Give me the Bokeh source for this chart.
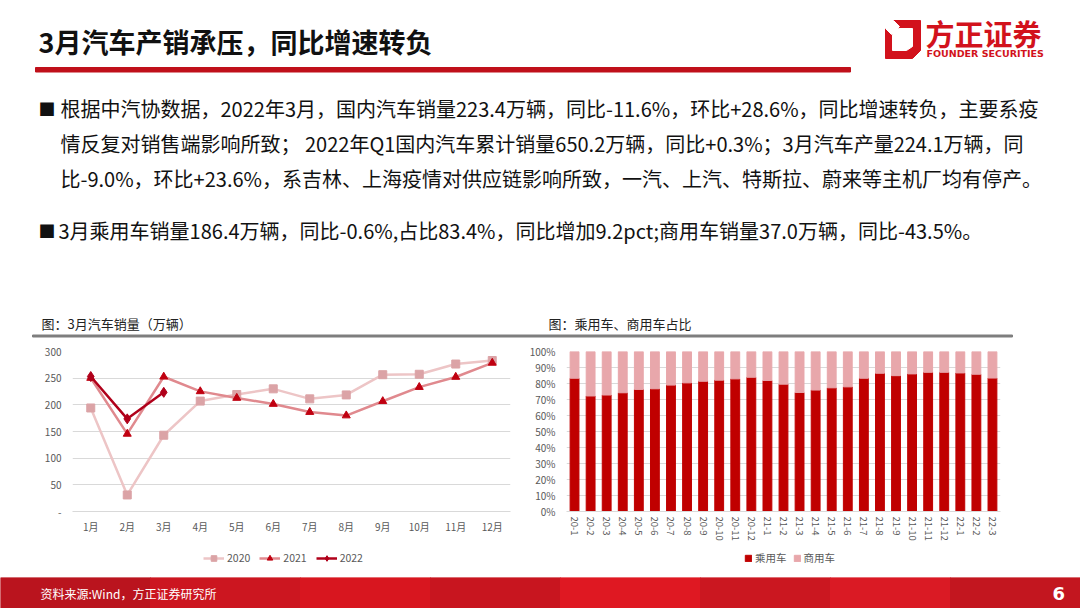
from bokeh.plotting import figure
from bokeh.models import Range1d, FactorRange, Legend, LegendItem, FixedTicker, ColumnDataSource
from bokeh.layouts import column, row
from bokeh.embed import file_html
from bokeh.resources import INLINE
from bokeh.core.properties import value

CJK = "Noto Sans CJK SC"
NAN = float("nan")

# ---------------- data ----------------
title_text = "3月汽车产销承压，同比增速转负"
body_lines = [
    "根据中汽协数据，2022年3月，国内汽车销量223.4万辆，同比-11.6%，环比+28.6%，同比增速转负，主要系疫",
    "情反复对销售端影响所致； 2022年Q1国内汽车累计销量650.2万辆，同比+0.3%；3月汽车产量224.1万辆，同",
    "比-9.0%，环比+23.6%，系吉林、上海疫情对供应链影响所致，一汽、上汽、特斯拉、蔚来等主机厂均有停产。",
    "3月乘用车销量186.4万辆，同比-0.6%,占比83.4%，同比增加9.2pct;商用车销量37.0万辆，同比-43.5%。",
]
left_title = "图：3月汽车销量（万辆）"
right_title = "图：乘用车、商用车占比"
source_note = "资料来源:Wind，方正证券研究所"
page_no = "6"

months = ["1月", "2月", "3月", "4月", "5月", "6月", "7月", "8月", "9月", "10月", "11月", "12月"]
sales_2020 = [194.1, 31.0, 143.0, 207.0, 219.4, 230.0, 211.2, 218.6, 256.5, 257.3, 276.5, 283.1]
sales_2021 = [250.3, 145.5, 252.6, 225.2, 212.8, 201.5, 186.4, 179.9, 206.7, 233.2, 252.2, 278.6]
sales_2022 = [253.1, 173.7, 223.4]
sales_ticks = [0, 50, 100, 150, 200, 250, 300]
series_names = ["2020", "2021", "2022"]

periods = ["20-1", "20-2", "20-3", "20-4", "20-5", "20-6", "20-7", "20-8", "20-9", "20-10", "20-11", "20-12",
           "21-1", "21-2", "21-3", "21-4", "21-5", "21-6", "21-7", "21-8", "21-9", "21-10", "21-11", "21-12",
           "22-1", "22-2", "22-3"]
passenger_share = [83.3, 72.2, 72.8, 74.2, 76.3, 76.7, 79.0, 80.4, 81.4, 82.1, 82.9, 83.9,
                   81.9, 79.6, 74.4, 75.9, 77.3, 77.9, 83.3, 86.4, 84.9, 86.0, 87.0, 87.0,
                   86.6, 85.8, 83.4]
commercial_share = [16.7, 27.8, 27.2, 25.8, 23.7, 23.3, 21.0, 19.6, 18.6, 17.9, 17.1, 16.1,
                    18.1, 20.4, 25.6, 24.1, 22.7, 22.1, 16.7, 13.6, 15.1, 14.0, 13.0, 13.0,
                    13.4, 14.2, 16.6]
share_names = ["乘用车", "商用车"]
share_ticks = [0, 10, 20, 30, 40, 50, 60, 70, 80, 90, 100]

RED = "#C00000"
PINK = "#E8A7AB"
LOGO_RED = "#D2121C"
AXIS_TXT = "#595959"
GRID = "#D9D9D9"
C20_LINE, C20_MK = "#EDC5C6", "#DBA3A6"
C21_LINE, C21_MK = "#E0898E", "#C00010"
C22 = "#B0001A"


def blank(w, h):
    p = figure(width=w, height=h, x_range=Range1d(0, w), y_range=Range1d(h, 0),
               x_axis_type=None, y_axis_type=None, toolbar_location=None,
               output_backend="svg", min_border=0)
    p.grid.visible = False
    p.outline_line_color = None
    return p


# ---------------- header & text ----------------
top = blank(1080, 340)
top.text(x=[38], y=[41], text=[title_text], text_font=value(CJK), text_font_size="27px",
         text_font_style="bold", text_baseline="middle", text_color="#111111")
top.quad(left=[35], right=[850], top=[67], bottom=[71.5], color="#C0101A")

# logo
top.patch(x=[893, 920, 920, 912, 885, 885], y=[20, 20, 50, 58, 58, 28], color=LOGO_RED)
top.patch(x=[898, 912, 912, 906, 892, 892], y=[28, 28, 46, 50, 50, 34], color="white")
top.patch(x=[885, 893, 899, 891], y=[28, 20, 26, 34], color="white")
top.text(x=[925], y=[32], text=["方正证券"], text_font=value(CJK), text_font_size="29px",
         text_font_style="bold", text_baseline="middle", text_color=LOGO_RED)
top.text(x=[926], y=[53], text=["FOUNDER SECURITIES"], text_font=value("DejaVu Sans"),
         text_font_size="9.5px", text_font_style="bold", text_baseline="middle", text_color=LOGO_RED)

# bullets & body text
top.text(x=[38, 38], y=[108, 230], text=["■", "■"], text_font=value(CJK), text_font_size="17px",
         text_baseline="middle", text_color="#111111")
top.text(x=[60, 60, 60, 58], y=[108, 143, 178, 230], text=body_lines, text_font=value(CJK),
         text_font_size="20px", text_baseline="middle", text_color="#111111")

# chart titles
top.text(x=[41, 548], y=[323, 323], text=[left_title, right_title], text_font=value(CJK),
         text_font_size="13px", text_baseline="middle", text_color="#222222")
top.quad(left=[32], right=[1012], top=[334.5], bottom=[336.5], color="#7F7F7F")

# ---------------- left chart ----------------
left = figure(width=520, height=205, x_range=FactorRange(factors=months), y_range=Range1d(0, 300),
              toolbar_location=None, output_backend="svg",
              min_border_left=72, min_border_right=10, min_border_top=11, min_border_bottom=23)
left.outline_line_color = None
left.xgrid.visible = False
left.ygrid.grid_line_color = GRID
left.yaxis.ticker = FixedTicker(ticks=sales_ticks)
left.yaxis.major_label_overrides = {0: "-"}
left.yaxis.axis_line_color = None
left.yaxis.major_tick_line_color = None
left.yaxis.minor_tick_line_color = None
left.yaxis.major_tick_out = 0
left.yaxis.major_label_standoff = 11
left.xaxis.axis_line_color = GRID
left.xaxis.major_tick_line_color = None
left.xaxis.major_tick_out = 0
left.xaxis.major_label_standoff = 7
for ax in (left.xaxis, left.yaxis):
    ax.major_label_text_font = CJK
    ax.major_label_text_font_size = "10px"
    ax.major_label_text_color = AXIS_TXT

left.line(months, sales_2020, line_color=C20_LINE, line_width=2.5)
left.scatter(months, sales_2020, marker="square", size=8, color=C20_MK)
left.line(months, sales_2021, line_color=C21_LINE, line_width=2.5)
left.scatter(months, sales_2021, marker="triangle", size=8, color=C21_MK)
left.line(months[:3], sales_2022, line_color=C22, line_width=2.5)
left.scatter(months[:3], sales_2022, marker="diamond", size=10, color=C22)

# ---------------- right chart ----------------
src = ColumnDataSource(dict(period=periods, passenger=passenger_share, commercial=commercial_share))
right = figure(width=560, height=205, x_range=FactorRange(factors=periods), y_range=Range1d(0, 100),
               toolbar_location=None, output_backend="svg",
               min_border_left=46, min_border_right=80, min_border_top=9, min_border_bottom=34)
right.outline_line_color = None
right.xgrid.visible = False
right.ygrid.grid_line_color = GRID
right.vbar_stack(["passenger", "commercial"], x="period", width=0.55, color=[RED, PINK], source=src)
right.yaxis.ticker = FixedTicker(ticks=share_ticks)
right.yaxis.major_label_overrides = {t: f"{t}%" for t in share_ticks}
right.yaxis.axis_line_color = None
right.yaxis.major_tick_line_color = None
right.yaxis.minor_tick_line_color = None
right.yaxis.major_tick_out = 0
right.yaxis.major_label_standoff = 11
right.xaxis.axis_line_color = GRID
right.xaxis.major_tick_line_color = None
right.xaxis.major_tick_out = 0
right.xaxis.major_label_orientation = "vertical"
right.xaxis.major_label_standoff = 5
for ax in (right.xaxis, right.yaxis):
    ax.major_label_text_font = CJK
    ax.major_label_text_font_size = "10px"
    ax.major_label_text_color = AXIS_TXT
right.xaxis.major_label_text_font_size = "9.5px"

# ---------------- legend strip ----------------
strip = figure(width=1080, height=32, x_range=Range1d(0, 1080), y_range=Range1d(0, 32),
               x_axis_type=None, y_axis_type=None, toolbar_location=None,
               output_backend="svg", min_border=0)
strip.grid.visible = False
strip.outline_line_color = None
e = dict(x=[NAN], y=[NAN])   # legend-only renderers: nothing is drawn in the strip itself
g20 = [strip.line(line_color=C20_LINE, line_width=2.5, **e),
       strip.scatter(marker="square", size=8, color=C20_MK, **e)]
g21 = [strip.line(line_color=C21_LINE, line_width=2.5, **e),
       strip.scatter(marker="triangle", size=8, color=C21_MK, **e)]
g22 = [strip.line(line_color=C22, line_width=2.5, **e),
       strip.scatter(marker="diamond", size=10, color=C22, **e)]
gp = strip.vbar(x=[NAN], top=[NAN], width=1, color=RED)
gc = strip.vbar(x=[NAN], top=[NAN], width=1, color=PINK)

leg_style = dict(orientation="horizontal", label_height=14, label_standoff=3, padding=0, margin=0,
                 border_line_color=None, background_fill_alpha=0, label_text_font=CJK,
                 label_text_font_size="10.5px", label_text_color=AXIS_TXT)
leg_l = Legend(items=[LegendItem(label=n, renderers=r) for n, r in zip(series_names, [g20, g21, g22])],
               location=(203, 12), glyph_width=21, glyph_height=14, spacing=9, **leg_style)
leg_r = Legend(items=[LegendItem(label=n, renderers=[r]) for n, r in zip(share_names, [gp, gc])],
               location=(744, 12), glyph_width=8, glyph_height=8, spacing=6, **leg_style)
strip.add_layout(leg_l)
strip.add_layout(leg_r)

# ---------------- footer ----------------
foot = blank(1080, 31)
seg_left = [0, 150, 300, 430, 560, 700, 830, 950]
seg_right = [150, 300, 430, 560, 700, 830, 950, 1080]
seg_color = ["#BA141E", "#CC1620", "#D8161F", "#C8151F", "#DF1822", "#CB1720", "#DA1A24", "#C3161F"]
foot.quad(left=seg_left, right=seg_right, top=[0] * 8, bottom=[31] * 8, color=seg_color)
foot.text(x=[40], y=[16], text=[source_note], text_font=value(CJK), text_font_size="12px",
          text_baseline="middle", text_color="white")
foot.text(x=[1052], y=[16], text=[page_no], text_font=value("DejaVu Sans"), text_font_size="18px",
          text_font_style="bold", text_baseline="middle", text_color="white")

layout = column(top, row(left, right), strip, foot)
open("out.html", "w").write(file_html(layout, INLINE))
